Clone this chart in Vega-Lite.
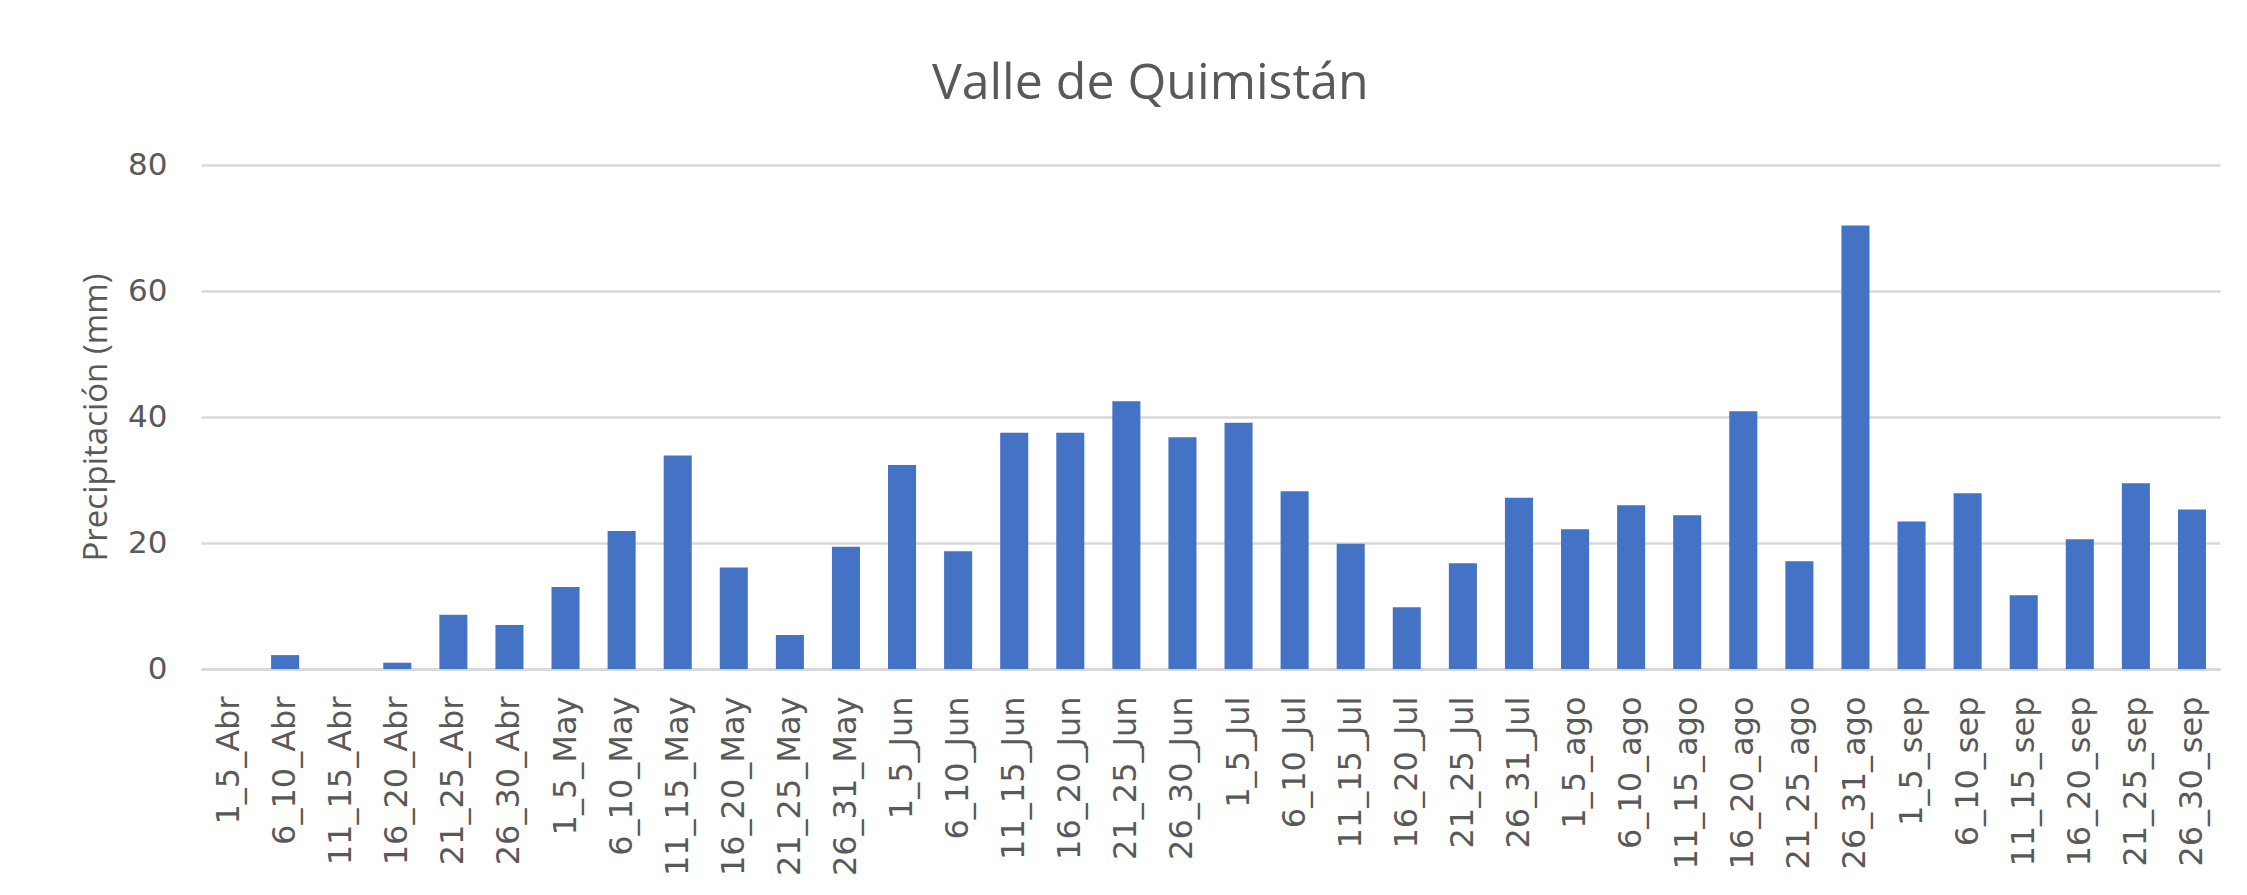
{
  "$schema": "https://vega.github.io/schema/vega-lite/v6.json",
  "width": 2019,
  "height": 504,
  "autosize": "none",
  "padding": {"left": 201, "top": 165, "right": 27, "bottom": 226},
  "background": "white",
  "title": {
    "text": "Valle de Quimistán",
    "font": "Open Sans",
    "fontSize": 50,
    "fontWeight": "normal",
    "color": "#595959",
    "anchor": "middle",
    "frame": "bounds",
    "offset": 40
  },
  "data": {
    "values": [
      {"periodo": "1_5_Abr", "precip": 0},
      {"periodo": "6_10_Abr", "precip": 2.2},
      {"periodo": "11_15_Abr", "precip": 0},
      {"periodo": "16_20_Abr", "precip": 1.0},
      {"periodo": "21_25_Abr", "precip": 8.6},
      {"periodo": "26_30_Abr", "precip": 7.0},
      {"periodo": "1_5_May", "precip": 13.0},
      {"periodo": "6_10_May", "precip": 21.9},
      {"periodo": "11_15_May", "precip": 33.9},
      {"periodo": "16_20_May", "precip": 16.1},
      {"periodo": "21_25_May", "precip": 5.4},
      {"periodo": "26_31_May", "precip": 19.4},
      {"periodo": "1_5_Jun", "precip": 32.4},
      {"periodo": "6_10_Jun", "precip": 18.7},
      {"periodo": "11_15_Jun", "precip": 37.5},
      {"periodo": "16_20_Jun", "precip": 37.5},
      {"periodo": "21_25_Jun", "precip": 42.5},
      {"periodo": "26_30_Jun", "precip": 36.8},
      {"periodo": "1_5_Jul", "precip": 39.1},
      {"periodo": "6_10_Jul", "precip": 28.2},
      {"periodo": "11_15_Jul", "precip": 19.9},
      {"periodo": "16_20_Jul", "precip": 9.8},
      {"periodo": "21_25_Jul", "precip": 16.8},
      {"periodo": "26_31_Jul", "precip": 27.2},
      {"periodo": "1_5_ago", "precip": 22.2},
      {"periodo": "6_10_ago", "precip": 26.0},
      {"periodo": "11_15_ago", "precip": 24.4},
      {"periodo": "16_20_ago", "precip": 40.9},
      {"periodo": "21_25_ago", "precip": 17.1},
      {"periodo": "26_31_ago", "precip": 70.4},
      {"periodo": "1_5_sep", "precip": 23.4},
      {"periodo": "6_10_sep", "precip": 27.9},
      {"periodo": "11_15_sep", "precip": 11.7},
      {"periodo": "16_20_sep", "precip": 20.6},
      {"periodo": "21_25_sep", "precip": 29.5},
      {"periodo": "26_30_sep", "precip": 25.3}
    ]
  },
  "mark": {"type": "bar", "color": "#4472C4"},
  "encoding": {
    "x": {
      "field": "periodo",
      "type": "nominal",
      "sort": null,
      "scale": {"paddingInner": 0.5, "paddingOuter": 0.25},
      "axis": {
        "title": null,
        "labelAngle": -90,
        "labelFont": "DejaVu Sans",
        "labelFontSize": 32,
        "labelColor": "#595959",
        "labelPadding": 27,
        "ticks": false,
        "grid": false,
        "domainColor": "#d9d9d9",
        "domainWidth": 3
      }
    },
    "y": {
      "field": "precip",
      "type": "quantitative",
      "scale": {"domain": [0, 80]},
      "axis": {
        "title": "Precipitación (mm)",
        "titleFont": "Open Sans",
        "titleFontSize": 33,
        "titleFontWeight": "normal",
        "titleColor": "#595959",
        "titlePadding": 14,
        "values": [0, 20, 40, 60, 80],
        "labelFont": "DejaVu Sans",
        "labelFontSize": 31,
        "labelColor": "#595959",
        "labelPadding": 34,
        "ticks": false,
        "domain": false,
        "gridColor": "#d9d9d9",
        "gridWidth": 2.5
      }
    }
  },
  "config": {"view": {"stroke": null}}
}
